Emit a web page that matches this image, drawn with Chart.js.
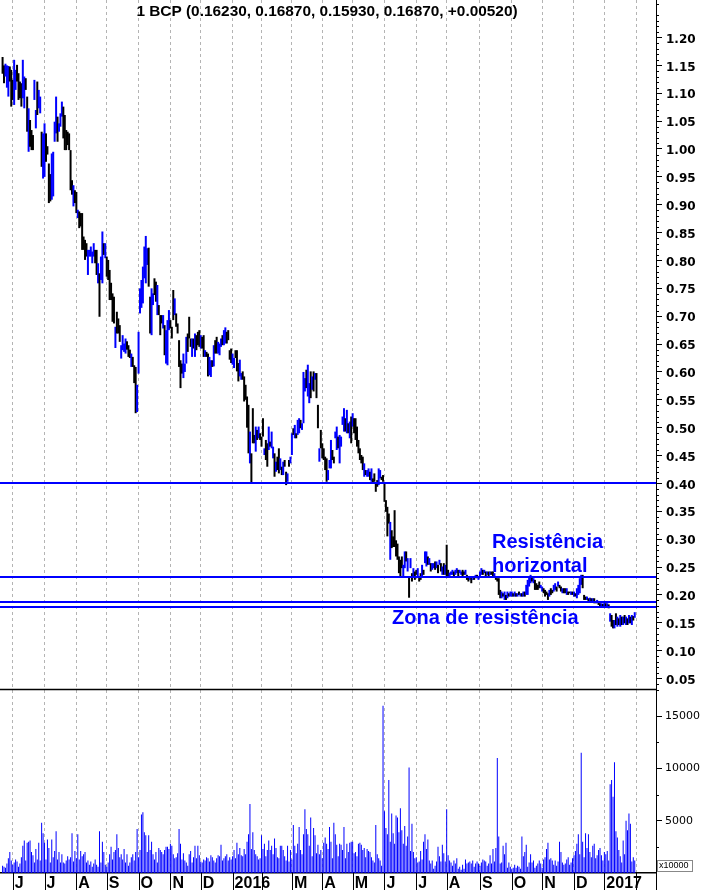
<!DOCTYPE html>
<html>
<head>
<meta charset="utf-8">
<script src="https://cdn.jsdelivr.net/npm/chart.js@4.4.1/dist/chart.umd.min.js"></script>
<style>
html,body{margin:0;padding:0;background:#fff;}
#wrap{position:relative;width:702px;height:890px;}
canvas{display:block;}
</style>
</head>
<body>
<div id="wrap"><canvas id="c" width="702" height="890"></canvas></div>
<script>
// ---- DATA ----
const titleText = '1 BCP (0.16230, 0.16870, 0.15930, 0.16870, +0.00520)';

// trading days per month, May 2015 (partial) .. Jan 2017
const monthCounts = [7,22,22,21,22,22,21,22,20,21,21,21,22,22,21,23,22,21,22,21,22];
// labels at the start of each month from Jun 2015 to Feb 2017
const monthLabels = ['J','J','A','S','O','N','D','2016','','M','A','M','J','J','A','S','O','N','D','2017',''];

const priceTicks = [1.20,1.15,1.10,1.05,1.00,0.95,0.90,0.85,0.80,0.75,0.70,0.65,0.60,0.55,0.50,0.45,0.40,0.35,0.30,0.25,0.20,0.15,0.10,0.05];
const volumeTicks = [5000,10000,15000];
const levels = [0.400,0.233,0.188,0.178];

// daily bars: [high, low, up(1)/down(0)]
const priceBars = [
// May 2015
[1.165,1.135,0],[1.150,1.118,0],[1.153,1.130,1],[1.150,1.110,1],[1.149,1.094,1],[1.148,1.121,0],[1.142,1.076,0],
// Jun 2015
[1.124,1.088,0],[1.160,1.079,1],[1.142,1.106,1],[1.151,1.121,0],[1.136,1.088,0],[1.121,1.091,0],[1.118,1.076,0],[1.160,1.091,1],[1.130,1.073,1],[1.127,1.106,0],[1.094,1.031,0],[1.073,0.995,1],[1.052,1.004,0],[1.034,0.998,0],[1.025,0.998,0],[1.124,1.088,1],[1.070,1.037,1],[1.121,1.061,0],[1.106,1.073,1],[1.094,1.064,1],[1.031,0.968,0],[1.028,0.947,1],
// Jul 2015
[1.046,0.950,1],[1.028,0.977,0],[1.005,0.990,0],[0.974,0.903,0],[0.955,0.906,0],[0.992,0.909,1],[0.995,0.915,1],[1.049,1.013,1],[1.094,1.028,1],[1.058,1.013,0],[1.046,1.031,1],[1.064,1.040,1],[1.085,1.058,1],[1.076,1.019,0],[1.061,0.998,0],[1.034,0.998,0],[1.031,1.007,0],[1.028,0.998,0],[0.998,0.926,0],[0.944,0.918,0],[0.935,0.897,1],[0.926,0.903,0],
// Aug 2015
[0.923,0.885,0],[0.891,0.876,1],[0.888,0.858,0],[0.885,0.861,0],[0.885,0.819,0],[0.843,0.819,0],[0.837,0.801,0],[0.831,0.807,0],[0.819,0.774,1],[0.819,0.807,1],[0.825,0.807,1],[0.816,0.795,1],[0.831,0.807,1],[0.819,0.795,0],[0.819,0.774,0],[0.795,0.759,1],[0.777,0.699,0],[0.807,0.765,1],[0.852,0.759,1],[0.831,0.810,0],[0.831,0.804,1],
// Sep 2015
[0.807,0.771,0],[0.801,0.765,0],[0.783,0.729,0],[0.760,0.729,0],[0.741,0.690,0],[0.735,0.687,0],[0.681,0.643,1],[0.708,0.669,0],[0.696,0.669,0],[0.684,0.654,0],[0.648,0.624,1],[0.666,0.639,1],[0.651,0.636,1],[0.660,0.633,1],[0.655,0.640,0],[0.648,0.627,0],[0.640,0.625,0],[0.633,0.609,1],[0.627,0.609,0],[0.612,0.580,0],[0.609,0.526,0],[0.577,0.528,1],
// Oct 2015
[0.672,0.597,1],[0.750,0.705,1],[0.765,0.715,1],[0.789,0.723,1],[0.825,0.768,1],[0.844,0.759,1],[0.822,0.792,1],[0.823,0.753,0],[0.735,0.669,0],[0.750,0.666,1],[0.741,0.720,1],[0.768,0.738,0],[0.762,0.726,0],[0.756,0.702,1],[0.720,0.702,0],[0.702,0.666,0],[0.702,0.687,0],[0.702,0.678,1],[0.684,0.630,0],[0.675,0.615,1],[0.693,0.612,1],[0.711,0.675,1],
// Nov 2015
[0.693,0.678,0],[0.681,0.660,0],[0.747,0.693,0],[0.732,0.702,1],[0.705,0.681,0],[0.687,0.669,0],[0.657,0.609,0],[0.621,0.571,0],[0.615,0.597,0],[0.633,0.589,1],[0.615,0.600,1],[0.663,0.615,1],[0.669,0.636,0],[0.699,0.660,0],[0.660,0.645,0],[0.660,0.627,1],[0.660,0.642,0],[0.669,0.627,1],[0.666,0.639,0],[0.672,0.648,0],[0.675,0.645,0],
// Dec 2015
[0.666,0.642,1],[0.663,0.642,0],[0.666,0.627,0],[0.639,0.627,1],[0.636,0.627,0],[0.633,0.592,0],[0.627,0.594,1],[0.621,0.591,1],[0.621,0.609,0],[0.648,0.610,1],[0.657,0.633,0],[0.663,0.633,0],[0.654,0.633,1],[0.651,0.630,1],[0.660,0.645,1],[0.666,0.648,0],[0.675,0.648,1],[0.680,0.651,1],[0.672,0.651,0],[0.675,0.657,0],[0.639,0.622,0],[0.642,0.616,0],
// Jan 2016
[0.633,0.613,1],[0.625,0.607,1],[0.639,0.625,0],[0.639,0.601,0],[0.616,0.583,0],[0.622,0.592,1],[0.598,0.586,1],[0.601,0.586,0],[0.592,0.547,0],[0.577,0.550,0],[0.556,0.500,0],[0.541,0.454,0],[0.493,0.436,1],[0.454,0.400,0],[0.535,0.472,0],[0.487,0.472,0],[0.502,0.457,1],[0.496,0.478,0],[0.502,0.481,1],[0.490,0.478,0],
// Feb 2016
[0.484,0.466,0],[0.517,0.484,0],[0.463,0.451,1],[0.478,0.442,0],[0.472,0.430,0],[0.502,0.460,1],[0.475,0.466,0],[0.493,0.463,1],[0.466,0.445,1],[0.454,0.412,0],[0.439,0.421,1],[0.448,0.424,0],[0.463,0.418,0],[0.445,0.424,1],[0.430,0.415,0],[0.439,0.415,1],[0.442,0.430,0],[0.421,0.397,0],[0.418,0.403,1],[0.442,0.430,0],[0.448,0.436,1],
// Mar 2016
[0.490,0.451,1],[0.499,0.487,0],[0.505,0.481,1],[0.490,0.481,0],[0.514,0.487,1],[0.517,0.490,1],[0.514,0.499,0],[0.508,0.496,1],[0.600,0.508,1],[0.589,0.565,1],[0.604,0.571,0],[0.613,0.556,1],[0.580,0.544,1],[0.601,0.553,0],[0.592,0.568,1],[0.601,0.565,0],[0.598,0.586,1],[0.598,0.553,0],[0.541,0.499,0],[0.463,0.439,1],[0.496,0.463,0],
// Apr 2016
[0.472,0.445,0],[0.463,0.442,0],[0.448,0.424,0],[0.445,0.403,0],[0.424,0.406,1],[0.442,0.427,1],[0.478,0.427,1],[0.460,0.442,0],[0.448,0.436,0],[0.493,0.481,1],[0.502,0.460,1],[0.484,0.463,0],[0.487,0.436,1],[0.484,0.466,1],[0.520,0.505,1],[0.535,0.493,1],[0.517,0.493,0],[0.532,0.490,1],[0.508,0.490,0],[0.511,0.481,1],[0.520,0.472,0],
// May 2016
[0.526,0.502,1],[0.517,0.490,0],[0.517,0.478,0],[0.502,0.466,0],[0.478,0.454,0],[0.463,0.442,0],[0.451,0.436,0],[0.448,0.424,0],[0.436,0.412,1],[0.424,0.415,0],[0.424,0.412,1],[0.427,0.412,1],[0.421,0.406,0],[0.427,0.403,1],[0.409,0.400,0],[0.418,0.403,0],[0.400,0.385,0],[0.406,0.394,0],[0.427,0.397,1],[0.424,0.409,1],[0.412,0.406,0],[0.415,0.403,0],
// Jun 2016
[0.400,0.367,0],[0.370,0.349,0],[0.358,0.305,0],[0.346,0.328,0],[0.331,0.263,1],[0.316,0.284,0],[0.305,0.286,0],[0.352,0.286,0],[0.298,0.269,0],[0.292,0.263,0],[0.269,0.239,0],[0.263,0.233,0],[0.269,0.248,0],[0.254,0.233,1],[0.278,0.248,1],[0.278,0.260,0],[0.266,0.242,1],[0.233,0.195,0],[0.266,0.248,1],[0.239,0.224,0],[0.248,0.233,1],[0.242,0.227,0],
// Jul 2016
[0.245,0.236,0],[0.248,0.233,1],[0.233,0.224,0],[0.239,0.227,0],[0.254,0.233,1],[0.245,0.236,0],[0.278,0.257,1],[0.278,0.251,1],[0.269,0.254,0],[0.266,0.254,1],[0.257,0.242,0],[0.257,0.245,1],[0.257,0.248,1],[0.260,0.245,0],[0.260,0.248,1],[0.254,0.239,0],[0.263,0.254,1],[0.257,0.242,0],[0.251,0.236,1],[0.257,0.236,0],[0.254,0.236,1],
// Aug 2016
[0.290,0.233,0],[0.245,0.233,0],[0.240,0.233,1],[0.242,0.236,1],[0.245,0.236,1],[0.242,0.233,0],[0.245,0.236,1],[0.248,0.239,1],[0.245,0.233,0],[0.245,0.239,1],[0.242,0.236,1],[0.245,0.233,0],[0.242,0.236,0],[0.245,0.236,1],[0.236,0.227,0],[0.233,0.224,0],[0.233,0.227,1],[0.233,0.221,0],[0.230,0.227,1],[0.233,0.227,0],[0.236,0.230,1],[0.236,0.230,0],[0.233,0.227,1],
// Sep 2016
[0.242,0.233,1],[0.248,0.236,1],[0.245,0.236,0],[0.245,0.239,1],[0.242,0.233,0],[0.242,0.236,1],[0.242,0.233,0],[0.242,0.236,1],[0.242,0.236,0],[0.242,0.233,0],[0.239,0.233,1],[0.233,0.227,0],[0.230,0.224,0],[0.230,0.200,0],[0.209,0.194,0],[0.206,0.194,1],[0.203,0.197,0],[0.206,0.191,1],[0.200,0.191,0],[0.206,0.194,1],[0.203,0.197,0],[0.206,0.197,1],
// Oct 2016
[0.206,0.197,1],[0.203,0.197,0],[0.206,0.197,1],[0.203,0.197,0],[0.203,0.197,1],[0.206,0.200,0],[0.203,0.197,1],[0.203,0.197,0],[0.206,0.197,1],[0.206,0.197,0],[0.218,0.200,1],[0.227,0.200,1],[0.233,0.215,1],[0.236,0.221,1],[0.233,0.224,0],[0.230,0.221,1],[0.227,0.209,0],[0.221,0.209,0],[0.218,0.209,0],[0.224,0.212,0],[0.218,0.212,1],
// Nov 2016
[0.215,0.206,1],[0.212,0.203,0],[0.209,0.197,0],[0.206,0.200,0],[0.203,0.191,0],[0.209,0.197,1],[0.212,0.200,0],[0.209,0.203,0],[0.218,0.206,1],[0.221,0.209,1],[0.215,0.206,0],[0.224,0.215,1],[0.218,0.212,0],[0.215,0.206,0],[0.212,0.203,1],[0.212,0.203,0],[0.212,0.203,0],[0.212,0.200,1],[0.206,0.200,0],[0.206,0.203,0],[0.206,0.200,1],[0.206,0.200,0],
// Dec 2016
[0.206,0.197,1],[0.203,0.197,0],[0.212,0.194,1],[0.218,0.200,1],[0.230,0.203,1],[0.236,0.218,1],[0.236,0.212,0],[0.200,0.191,0],[0.197,0.191,0],[0.197,0.191,1],[0.194,0.188,0],[0.195,0.189,1],[0.194,0.188,0],[0.194,0.188,1],[0.194,0.185,0],[0.188,0.185,0],[0.191,0.185,1],[0.188,0.182,0],[0.185,0.179,0],[0.185,0.180,1],[0.184,0.179,0],
// Jan 2017
[0.188,0.179,1],[0.185,0.179,0],[0.185,0.180,1],[0.183,0.176,0],[0.167,0.152,1],[0.164,0.143,0],[0.155,0.140,0],[0.155,0.140,1],[0.167,0.146,0],[0.161,0.143,1],[0.158,0.146,0],[0.164,0.143,1],[0.161,0.146,0],[0.161,0.146,1],[0.164,0.149,0],[0.161,0.146,1],[0.158,0.146,0],[0.164,0.149,1],[0.161,0.149,0],[0.164,0.146,1],[0.162,0.154,0],[0.169,0.159,1]
];

// daily volume (x10000)
const volumes = [
// May 2015
700,600,500,900,1400,2000,1200,
// Jun 2015
800,1000,1300,1100,600,900,1500,2600,3100,1200,2900,3000,3100,2000,1700,1000,2300,1300,2900,1200,4800,3800,
// Jul 2015
2900,1300,3200,2400,1000,3200,1500,2100,4000,1300,2000,1000,1800,1000,900,1200,1600,1300,1500,3800,1100,2100,
// Aug 2015
1400,3700,1300,2100,1600,1800,2000,1000,1200,800,1100,600,900,1300,800,600,4000,1000,3000,2000,800,
// Sep 2015
600,1000,1800,2500,1300,2000,2200,3700,2400,1500,1800,1300,2300,1000,1800,700,1000,1500,1800,1200,2000,4200,
// Oct 2015
1500,2200,5600,5800,3900,3600,2000,3600,2200,3000,1800,1300,2000,1000,2400,2200,2000,1800,2200,2500,2500,2300,
// Nov 2015
2800,2600,1800,1400,1500,1900,4200,2800,1300,1900,1200,1000,700,1800,2100,1000,1500,2600,1400,2600,1700,
// Dec 2015
1100,1000,1300,1200,1500,1400,1100,1700,1500,1200,1000,1400,1700,1600,2700,1200,1400,1600,1800,1200,1500,1300,
// Jan 2016
1600,2200,1400,2900,1800,2400,1700,1600,2300,1800,3000,3700,6600,2300,3900,2200,1800,1600,1300,1400,
// Feb 2016
3600,2300,2800,1600,2200,3100,2200,2600,1800,3300,2400,1500,1400,2600,2600,2200,1600,1200,2600,1100,2200,
// Mar 2016
1300,4600,2600,1900,2800,4400,2200,1800,3700,6100,4200,3700,2600,5300,1600,4300,3600,1900,2700,1800,2200,
// Apr 2016
1400,2900,3400,2800,2300,4400,3000,1400,4800,3700,2700,1600,2800,2700,2200,4400,1400,2800,2000,2900,3000,
// May 2016
3000,1900,2000,1600,2800,2900,2700,2200,2400,1500,2300,2100,2000,1500,1200,1000,4600,1800,1400,1200,700,16000,
// Jun 2016
5900,4300,3700,8900,3000,5700,3800,2800,5500,5300,3900,6200,4100,2800,4500,2600,3500,10100,2100,4700,2000,1400,
// Jul 2016
1500,1000,1100,2100,1300,3000,3700,2300,3200,1200,900,1200,400,700,1100,2500,1600,1100,2700,1900,1100,
// Aug 2016
6100,1700,1200,1000,700,1200,900,1400,400,600,300,800,400,1300,900,1000,1100,900,1200,600,900,1100,900,
// Sep 2016
700,1000,1300,1200,1100,700,900,1700,900,2300,1100,2400,11000,3500,900,1000,2600,1800,2900,500,1000,600,
// Oct 2016
400,500,800,500,700,600,400,3500,1600,2000,2700,600,1000,1800,1000,1200,500,700,900,1200,900,
// Nov 2016
500,1300,1500,2300,2900,1300,1400,1200,800,1200,700,1100,3000,2000,1000,800,900,1300,1500,800,1000,1400,
// Dec 2016
1700,2100,2800,3700,1800,11500,3000,1500,3800,2400,3700,2000,1500,2600,2800,1400,1700,2200,2400,1700,1200,
// Jan 2017
2000,1800,2100,1200,8500,8900,7300,10600,4000,3400,2200,1600,1000,3100,1800,5000,4100,5700,4700,1100,1500,1200
];

// ---- derived ----
const monthStarts = [];
{ let s = 0; monthCounts.forEach(c => { s += c; monthStarts.push(s); }); }

const BLUE = '#0000ff';
const priceData = priceBars.map((b, i) => ({x: i, y: [b[1], b[0]]}));
const priceColors = priceBars.map(b => b[2] ? BLUE : '#000000');
const volData = volumes.map((v, i) => ({x: i, y: v}));

const X_MIN = -1.78, X_MAX = 451.7;
const P_MIN = 0.0312, P_MAX = 1.2673;
const V_MIN = 0, V_MAX = 17600;

const ARIAL = '"Liberation Sans", Arial, Helvetica, sans-serif';
const VERD = '"DejaVu Sans", Verdana, sans-serif';

const overlay = {
  id: 'overlay',
  afterDatasetsDraw(chart) {
    const {ctx, chartArea: a, scales: {yP}} = chart;
    ctx.save();
    ctx.strokeStyle = BLUE; ctx.lineWidth = 2;
    levels.forEach(v => {
      const y = Math.round(yP.getPixelForValue(v));
      ctx.beginPath(); ctx.moveTo(a.left, y); ctx.lineTo(a.right, y); ctx.stroke();
    });
    ctx.strokeStyle = '#000'; ctx.lineWidth = 1.5;
    const ys = Math.round(yP.bottom) + 0.5;
    ctx.beginPath(); ctx.moveTo(a.left, ys); ctx.lineTo(a.right, ys); ctx.stroke();
    ctx.fillStyle = BLUE;
    ctx.font = 'bold 20px ' + ARIAL;
    ctx.textAlign = 'left'; ctx.textBaseline = 'middle';
    ctx.fillText('Resistência', 492, 542);
    ctx.fillText('horizontal', 492, 566);
    ctx.fillText('Zona de resistência', 392, 618);
    ctx.restore();
  },
  afterDraw(chart) {
    const {ctx, chartArea: a, scales: {x, yP, yV}} = chart;
    ctx.save();
    ctx.fillStyle = '#000';
    ctx.font = 'bold 15.4px ' + ARIAL;
    ctx.textAlign = 'center'; ctx.textBaseline = 'middle';
    ctx.fillText(titleText, 327, 12);
    ctx.strokeStyle = '#000'; ctx.lineWidth = 1;
    for (let k = 4; k <= 126; k++) {
      if (k % 5 === 0) continue;
      const y = Math.round(yP.getPixelForValue(k / 100)) + 0.5;
      if (y < yP.top || y > yP.bottom) continue;
      ctx.beginPath(); ctx.moveTo(a.right, y); ctx.lineTo(a.right + 3, y); ctx.stroke();
    }
    [2500, 7500, 12500, 17500].forEach(v => {
      const y = Math.round(yV.getPixelForValue(v)) + 0.5;
      ctx.beginPath(); ctx.moveTo(a.right, y); ctx.lineTo(a.right + 3, y); ctx.stroke();
    });
    const rx = Math.round(a.right) + 0.5;
    ctx.beginPath(); ctx.moveTo(rx, a.bottom); ctx.lineTo(rx, 890); ctx.stroke();
    monthStarts.forEach(v => {
      const px = Math.round(x.getPixelForValue(v)) + 0.5;
      ctx.beginPath(); ctx.moveTo(px, a.bottom); ctx.lineTo(px, 890); ctx.stroke();
    });
    ctx.font = '9px ' + ARIAL;
    ctx.textAlign = 'left'; ctx.textBaseline = 'middle';
    ctx.fillStyle = '#000';
    ctx.fillText('x10000', 659, 866);
    ctx.strokeStyle = '#888';
    ctx.strokeRect(657.5, 860.5, 35, 11);
    ctx.restore();
  }
};

new Chart(document.getElementById('c'), {
  type: 'bar',
  data: {
    datasets: [
      {
        label: 'BCP',
        data: priceData,
        yAxisID: 'yP',
        backgroundColor: priceColors,
        borderWidth: 0,
        barThickness: 2,
        inflateAmount: 0,
        grouped: false,
        order: 1
      },
      {
        label: 'Volume',
        data: volData,
        yAxisID: 'yV',
        backgroundColor: BLUE,
        borderWidth: 0,
        barThickness: 1,
        inflateAmount: 0,
        grouped: false,
        order: 2
      }
    ]
  },
  options: {
    responsive: false,
    animation: false,
    devicePixelRatio: 1,
    layout: {padding: 0},
    plugins: {legend: {display: false}, tooltip: {enabled: false}, title: {display: false}},
    scales: {
      x: {
        type: 'linear',
        min: X_MIN, max: X_MAX,
        offset: false,
        afterBuildTicks: s => { s.ticks = monthStarts.map(v => ({value: v})); },
        afterFit: s => { s.height = 17; s.paddingLeft = 0; s.paddingRight = 0; },
        ticks: {
          autoSkip: false, maxRotation: 0, minRotation: 0,
          align: 'start', labelOffset: 2, padding: 1,
          color: '#000',
          font: {family: ARIAL, weight: 'bold', size: 16},
          callback: (v, i) => monthLabels[i]
        },
        grid: {color: '#b4b4b4', lineWidth: 1, drawTicks: false, offset: false},
        border: {display: true, color: '#000', width: 1.5, dash: [3, 3]}
      },
      yP: {
        type: 'linear',
        position: 'right',
        stack: 'panels',
        stackWeight: 689,
        min: P_MIN, max: P_MAX,
        afterBuildTicks: s => { s.ticks = priceTicks.map(v => ({value: v})); },
        afterFit: s => { s.width = 46; s.paddingTop = 0; s.paddingBottom = 0; },
        ticks: {
          autoSkip: false, padding: 4, labelOffset: 2,
          color: '#000',
          font: {family: VERD, weight: 'bold', size: 12},
          callback: v => v.toFixed(2)
        },
        grid: {drawOnChartArea: false, drawTicks: true, tickLength: 6, tickColor: '#000'},
        border: {display: true, color: '#000', width: 1}
      },
      yV: {
        type: 'linear',
        position: 'right',
        stack: 'panels',
        stackWeight: 184,
        min: V_MIN, max: V_MAX,
        afterBuildTicks: s => { s.ticks = volumeTicks.map(v => ({value: v})); },
        afterFit: s => { s.width = 46; s.paddingTop = 0; s.paddingBottom = 0; },
        ticks: {
          autoSkip: false, padding: 3,
          color: '#000',
          font: {family: VERD, size: 11},
          callback: v => String(v)
        },
        grid: {drawOnChartArea: false, drawTicks: true, tickLength: 6, tickColor: '#000'},
        border: {display: true, color: '#000', width: 1}
      }
    }
  },
  plugins: [overlay]
});
</script>
</body>
</html>
